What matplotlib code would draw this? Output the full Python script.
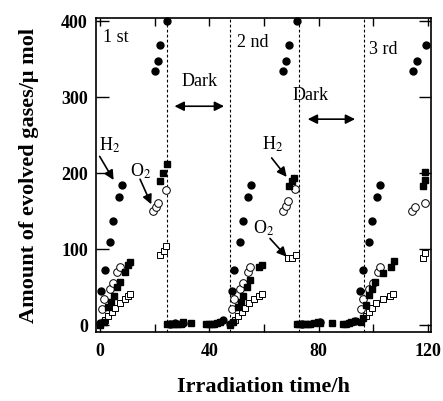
import numpy as np
import matplotlib.pyplot as plt
from matplotlib.ticker import MultipleLocator

plt.rcParams['font.family'] = ['Liberation Serif', 'DejaVu Serif']
plt.rcParams['mathtext.fontset'] = 'stix'

# ---------------- data ----------------
# H2, series A (filled circles)
h2_a_t = [0, 0.4, 1.6, 3.7, 4.6, 6.7, 7.9, 19.9, 21.0, 22.0, 24.4,
          25.5, 27.5, 30.5, 44.8,
          47.6, 48.2, 49.1, 51.2, 52.2, 54.3, 55.3, 67.1, 68.1, 69.2, 72.0,
          74.0, 80.5, 93.5,
          95.1, 96.1, 98.4, 99.4, 101.5, 102.4, 114.6, 115.9, 119.2]
h2_a_v = [3, 45, 73, 109, 137, 169, 184, 335, 348, 368, 400,
          2, 3, 3, 7,
          2, 45, 73, 109, 137, 169, 184, 335, 348, 368, 400,
          2, 4, 6,
          45, 73, 109, 137, 169, 184, 335, 348, 368]

# H2, series B (filled squares)
h2_b_t = [0, 1.2, 3.0, 3.9, 4.9, 6.1, 7.1, 9.0, 10.1, 11.0, 22.0, 22.9, 24.4,
          24.5, 25.5, 26.5, 27.5, 28.5, 29.5, 30.5, 33.3, 38.8, 39.8, 40.8,
          41.8, 42.8, 43.8,
          47.6, 48.8, 50.6, 51.5, 52.4, 53.7, 54.9, 58.3, 59.2, 69.2, 70.1, 71.0,
          72.0, 73.0, 74.0, 75.0, 76.0, 77.0, 78.5, 79.8, 80.6, 84.9, 89.0, 90.0,
          91.0, 92.0, 93.2,
          95.5, 96.2, 97.3, 98.5, 99.4, 100.6, 103.7, 106.7, 107.7,
          118.1, 118.9, 118.9]
h2_b_v = [0, 4, 24, 31, 38, 50, 57, 70, 79, 83, 189, 200, 212,
          1, 1, 1, 1, 2, 2, 4, 3, 1, 1, 2, 2, 3, 4,
          0, 4, 24, 31, 38, 50, 59, 76, 79, 183, 189, 194,
          1, 1, 1, 1, 1, 2, 3, 4, 3, 3, 1, 2, 3, 4, 6,
          4, 9, 26, 40, 48, 57, 69, 77, 84,
          183, 191, 201]

# O2, series A (open circles)
o2_a_t = [0.6, 1.5, 3.7, 4.6, 6.3, 7.3, 19.3, 20.4, 21.3, 24.1,
          48.2, 49.0, 51.2, 52.2, 54.3, 54.9, 66.8, 67.9, 68.9, 71.3,
          95.4, 96.1, 98.5, 99.8, 101.8, 102.4, 114.4, 115.3, 118.9]
o2_a_v = [21, 34, 47, 56, 70, 77, 150, 155, 161, 178,
          21, 34, 47, 56, 70, 77, 150, 157, 163, 179,
          21, 34, 47, 56, 70, 77, 150, 156, 161]

# O2, series B (open squares)
o2_b_t = [1.8, 3.0, 4.3, 5.5, 7.1, 8.9, 10.1, 11.0, 22.0, 23.2, 24.1,
          49.4, 50.6, 51.9, 53.1, 54.6, 56.5, 58.3, 59.2, 68.9, 70.1, 71.7,
          97.3, 98.4, 99.5, 101.2, 103.7, 106.1, 107.3, 118.1, 118.9]
o2_b_v = [7, 12, 18, 23, 29, 34, 38, 41, 92, 98, 104,
          7, 12, 18, 23, 29, 34, 38, 41, 88, 89, 92,
          12, 18, 23, 29, 34, 38, 41, 89, 95]

dark_lines = [24.6, 47.6, 72.8, 96.6]
x_ticks = [0, 40, 80, 120]
y_ticks = [0, 100, 200, 300, 400]

# ---------------- plot ----------------
fig = plt.figure(figsize=(4.43, 4.01), dpi=100)
ax = fig.add_axes([0.217, 0.172, 0.756, 0.783])

for xv in dark_lines:
    ax.axvline(xv, color='black', linestyle=(0, (2.5, 2)), linewidth=0.8)

ms = 5
ax.plot(o2_b_t, o2_b_v, 's', ms=ms, mfc='white', mec='black', mew=0.7,
        linestyle='none', clip_on=False)
ax.plot(o2_a_t, o2_a_v, 'o', ms=ms + 0.5, mfc='white', mec='black', mew=0.7,
        linestyle='none', clip_on=False)
ax.plot(h2_b_t, h2_b_v, 's', ms=ms, color='black', linestyle='none',
        clip_on=False)
ax.plot(h2_a_t, h2_a_v, 'o', ms=ms, color='black', linestyle='none',
        clip_on=False)

ax.set_xlim(-1.5, 121.2)
ax.set_ylim(-9, 404)
ax.set_xticks(x_ticks)
ax.xaxis.set_minor_locator(MultipleLocator(20))
ax.set_yticks(y_ticks)
ax.tick_params(which='both', direction='in', top=True, right=True,
               width=1, labelsize=13)
ax.tick_params(axis='x', which='both', length=6, pad=8)
ax.tick_params(axis='y', which='major', length=9, pad=6)
for lbl in ax.get_xticklabels() + ax.get_yticklabels():
    lbl.set_fontweight('bold')
for s in ax.spines.values():
    s.set_linewidth(1.2)

ax.set_xlabel('Irradiation time/h', fontsize=16, fontweight='bold', labelpad=12)
ax.set_ylabel('Amount of evolved gases/\u03bc mol', fontsize=16,
              fontweight='bold', labelpad=16)

# cycle labels
fs = 13
ax.text(1.0, 379, '1 st', fontsize=fs, va='center')
ax.text(50.0, 372, '2 nd', fontsize=fs, va='center')
ax.text(98.5, 363, '3 rd', fontsize=fs, va='center')

# dark labels with double arrows
ax.text(36.4, 320, 'Dark', fontsize=fs, ha='center', va='center')
ax.annotate('', xy=(26.2, 288), xytext=(46.4, 288),
            arrowprops=dict(arrowstyle='<|-|>', color='black', lw=1.2,
                            mutation_scale=14))
ax.text(77.0, 302, 'Dark', fontsize=fs, ha='center', va='center')
ax.annotate('', xy=(75.0, 271), xytext=(94.4, 271),
            arrowprops=dict(arrowstyle='<|-|>', color='black', lw=1.2,
                            mutation_scale=14))

# gas labels with arrows
arrow = dict(arrowstyle='-|>', color='black', lw=1.2, mutation_scale=14,
             shrinkA=0, shrinkB=0)
h2 = r'H$_{\mathrm{2}}$'
o2 = r'O$_{\mathrm{2}}$'
ax.text(-0.6, 236, h2, fontsize=fs, va='center')
ax.annotate('', xy=(4.9, 191), xytext=(-0.2, 222), arrowprops=arrow)
ax.text(10.8, 203, o2, fontsize=fs, va='center')
ax.annotate('', xy=(18.7, 159), xytext=(14.6, 192), arrowprops=arrow)
ax.text(59.4, 238, h2, fontsize=fs, va='center')
ax.annotate('', xy=(68.3, 195), xytext=(62.8, 220), arrowprops=arrow)
ax.text(55.8, 128, o2, fontsize=fs, va='center')
ax.annotate('', xy=(68.3, 90), xytext=(62.2, 114), arrowprops=arrow)

plt.savefig('out.png', dpi=100)
